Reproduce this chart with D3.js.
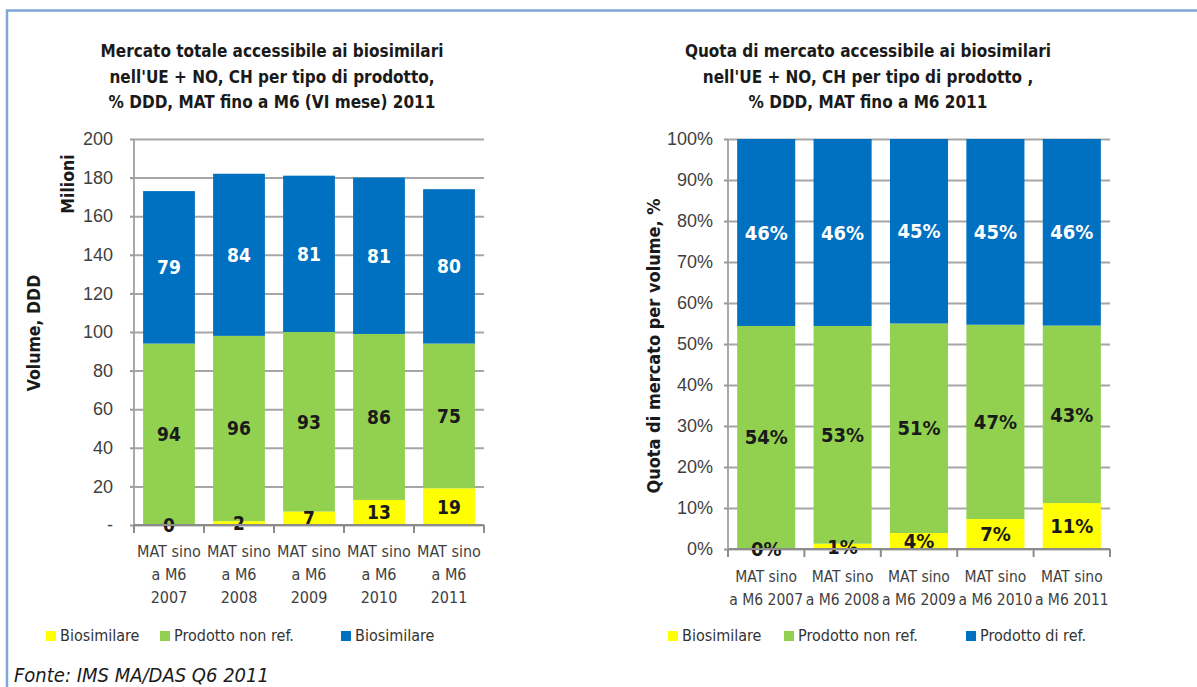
<!DOCTYPE html>
<html>
<head>
<meta charset="utf-8">
<script src="https://cdn.jsdelivr.net/npm/d3@7"></script>
<style>
  html, body { margin: 0; padding: 0; background: #fff; }
  svg { display: block; font-family: "DejaVu Sans Condensed", "DejaVu Sans", sans-serif; font-stretch: condensed; }
</style>
</head>
<body>
<svg></svg>
<script>
// dati
const years = ['2007', '2008', '2009', '2010', '2011']
const leftTickLabels = [
  ['MAT sino', 'a M6', '2007'],
  ['MAT sino', 'a M6', '2008'],
  ['MAT sino', 'a M6', '2009'],
  ['MAT sino', 'a M6', '2010'],
  ['MAT sino', 'a M6', '2011']
]
const rightTickLabels = [
  ['MAT sino', 'a M6 2007'],
  ['MAT sino', 'a M6 2008'],
  ['MAT sino', 'a M6 2009'],
  ['MAT sino', 'a M6 2010'],
  ['MAT sino', 'a M6 2011']
]
// volumi, milioni DDD
const volBiosimilare = [0, 2, 7, 13, 19]
const volNonRef = [94, 96, 93, 86, 75]
const volRef = [79, 84, 81, 81, 80]
// quote di mercato
const shareBiosimilare = [0.002, 0.013, 0.039, 0.073, 0.112]
const shareNonRef = [0.542, 0.531, 0.511, 0.474, 0.433]
const shareRef = [0.456, 0.456, 0.450, 0.453, 0.455]

const leftTitle = ['Mercato totale accessibile ai biosimilari', "nell'UE + NO, CH per tipo di prodotto,", '% DDD, MAT fino a M6 (VI mese) 2011']
const rightTitle = ['Quota di mercato accessibile ai biosimilari', "nell'UE + NO, CH per tipo di prodotto ,", '% DDD, MAT fino a M6 2011']
const leftLegend = ['Biosimilare', 'Prodotto non ref.', 'Biosimilare']
const rightLegend = ['Biosimilare', 'Prodotto non ref.', 'Prodotto di ref.']
const leftTicks = [0, 20, 40, 60, 80, 100, 120, 140, 160, 180, 200]
const rightTicks = [0, 0.1, 0.2, 0.3, 0.4, 0.5, 0.6, 0.7, 0.8, 0.9, 1]

const keys = ['bio', 'nonref', 'ref']
const colors = { bio: '#FFFF00', nonref: '#92D050', ref: '#0070C0' }
const labelColors = { bio: '#1a1a1a', nonref: '#1a1a1a', ref: '#ffffff' }

const width = 1197
const height = 687

const svg = d3.select('svg')
  .attr('width', width)
  .attr('height', height)
  .attr('viewBox', [0, 0, width, height])

// cornice
svg.append('path')
  .attr('d', `M7,${height} V10.5 H${width}`)
  .attr('fill', 'none')
  .attr('stroke', '#7FA6D8')
  .attr('stroke-width', 2.5)

function drawChart(cfg) {
  const rows = years.map((y, i) => ({ year: y, bio: cfg.bio[i], nonref: cfg.nonref[i], ref: cfg.ref[i] }))
  const series = d3.stack().keys(keys)(rows)

  const x = d3.scaleBand()
    .domain(years)
    .range([cfg.left, cfg.right])
    .paddingInner(cfg.padding)
    .paddingOuter(cfg.padding / 2)

  const y = d3.scaleLinear()
    .domain(cfg.domain)
    .range([cfg.bottom, cfg.top])

  // titolo
  const title = svg.append('text')
    .attr('text-anchor', 'middle')
    .attr('font-weight', 'bold')
    .attr('font-size', 17)
    .attr('fill', '#1a1a1a')
  cfg.title.forEach((t, i) => {
    title.append('tspan').attr('x', cfg.titleX).attr('y', 57 + i * 25.5).text(t)
  })

  // griglia e asse y
  const axisY = d3.axisLeft(y)
    .tickValues(cfg.ticks)
    .tickFormat(cfg.tickFormat)
    .tickSize(4)
    .tickPadding(cfg.tickPadding)

  svg.append('g')
    .attr('transform', `translate(${cfg.left},0)`)
    .call(axisY)
    .call(g => g.select('.domain').attr('stroke', '#8c8c8c').attr('stroke-width', 1.5).attr('d', `M0,${cfg.top}V${cfg.bottom}`))
    .call(g => g.selectAll('.tick line').attr('stroke', '#9a9a9a').attr('stroke-width', 2))
    .call(g => g.selectAll('.tick line')
      .clone()
      .attr('x1', 0)
      .attr('x2', cfg.right - cfg.left)
      .attr('stroke', '#a6a6a6')
      .attr('stroke-width', 2))
    .call(g => g.selectAll('.tick text')
      .attr('font-size', 18)
      .attr('font-family', null)
      .attr('fill', '#3f3f3f'))

  // barre
  svg.append('g')
    .selectAll('g')
    .data(series)
    .join('g')
    .attr('fill', d => colors[d.key])
    .selectAll('rect')
    .data(d => d)
    .join('rect')
    .attr('x', d => x(d.data.year))
    .attr('width', x.bandwidth())
    .attr('y', d => y(d[1]))
    .attr('height', d => y(d[0]) - y(d[1]))

  // etichette
  svg.append('g')
    .selectAll('g')
    .data(series)
    .join('g')
    .attr('fill', d => labelColors[d.key])
    .selectAll('text')
    .data(d => d.map(v => ({ key: d.key, v })))
    .join('text')
    .attr('x', d => x(d.v.data.year) + x.bandwidth() / 2)
    .attr('y', d => y((d.v[0] + d.v[1]) / 2))
    .attr('dy', '0.36em')
    .attr('text-anchor', 'middle')
    .attr('font-weight', 'bold')
    .attr('font-size', cfg.labelSize)
    .text(d => cfg.labelFormat(d.v.data[d.key]))

  // asse x
  const axisX = d3.axisBottom(x).tickSize(0).tickFormat('')
  svg.append('g')
    .attr('transform', `translate(0,${cfg.bottom})`)
    .call(axisX)
    .call(g => g.select('.domain').attr('stroke', '#8c8c8c').attr('stroke-width', 2).attr('d', `M${cfg.left},0H${cfg.right}`))

  const step = x.step()
  svg.append('g')
    .selectAll('line')
    .data(d3.range(years.length + 1))
    .join('line')
    .attr('x1', i => cfg.left + i * step)
    .attr('x2', i => cfg.left + i * step)
    .attr('y1', cfg.bottom)
    .attr('y2', cfg.bottom + 8)
    .attr('stroke', '#8c8c8c')
    .attr('stroke-width', 2)

  const xl = svg.append('g')
    .attr('font-size', cfg.xLabelSize)
    .attr('fill', '#3f3f3f')
    .attr('text-anchor', 'middle')
  years.forEach((yr, i) => {
    const t = xl.append('text')
    cfg.tickLabels[i].forEach((line, j) => {
      t.append('tspan')
        .attr('x', x(yr) + x.bandwidth() / 2)
        .attr('y', cfg.bottom + cfg.xLabelOffset + j * 23)
        .text(line)
    })
  })

  // titoli asse y
  cfg.yTitles.forEach(t => {
    svg.append('text')
      .attr('transform', `translate(${t.x},${t.y}) rotate(-90)`)
      .attr('text-anchor', 'middle')
      .attr('font-weight', 'bold')
      .attr('font-size', t.size)
      .attr('fill', '#1a1a1a')
      .text(t.text)
  })

  // legenda
  const lg = svg.append('g').attr('font-size', 16).attr('fill', '#333')
  cfg.legend.forEach((name, i) => {
    lg.append('rect')
      .attr('x', cfg.legendX[i])
      .attr('y', 631)
      .attr('width', 10)
      .attr('height', 10)
      .attr('fill', colors[keys[i]])
    lg.append('text')
      .attr('x', cfg.legendX[i] + 14)
      .attr('y', 641)
      .text(name)
  })
}

drawChart({
  left: 134, right: 484, top: 139, bottom: 525,
  padding: 0.26,
  domain: [0, 200],
  ticks: leftTicks,
  tickPadding: 17,
  tickFormat: v => v === 0 ? '-' : String(v),
  labelFormat: v => String(v),
  labelSize: 19,
  bio: volBiosimilare, nonref: volNonRef, ref: volRef,
  title: leftTitle, titleX: 272,
  tickLabels: leftTickLabels, xLabelOffset: 32, xLabelSize: 16,
  yTitles: [
    { text: 'Volume, DDD', x: 40, y: 333, size: 17.5 },
    { text: 'Milioni', x: 74, y: 184, size: 17.5 }
  ],
  legend: leftLegend,
  legendX: [46, 160, 341]
})

drawChart({
  left: 728, right: 1110, top: 139, bottom: 549,
  padding: 0.24,
  domain: [0, 1],
  ticks: rightTicks,
  tickPadding: 11,
  tickFormat: d3.format('.0%'),
  labelFormat: d3.format('.0%'),
  labelSize: 20,
  bio: shareBiosimilare, nonref: shareNonRef, ref: shareRef,
  title: rightTitle, titleX: 868,
  tickLabels: rightTickLabels, xLabelOffset: 33, xLabelSize: 15.5,
  yTitles: [
    { text: 'Quota di mercato per volume, %', x: 660, y: 346, size: 18 }
  ],
  legend: rightLegend,
  legendX: [668, 784, 966]
})

// fonte
svg.append('text')
  .attr('x', 14)
  .attr('y', 682)
  .attr('font-size', 20)
  .attr('font-style', 'italic')
  .attr('fill', '#1a1a1a')
  .text('Fonte: IMS MA/DAS Q6 2011')
</script>
</body>
</html>
